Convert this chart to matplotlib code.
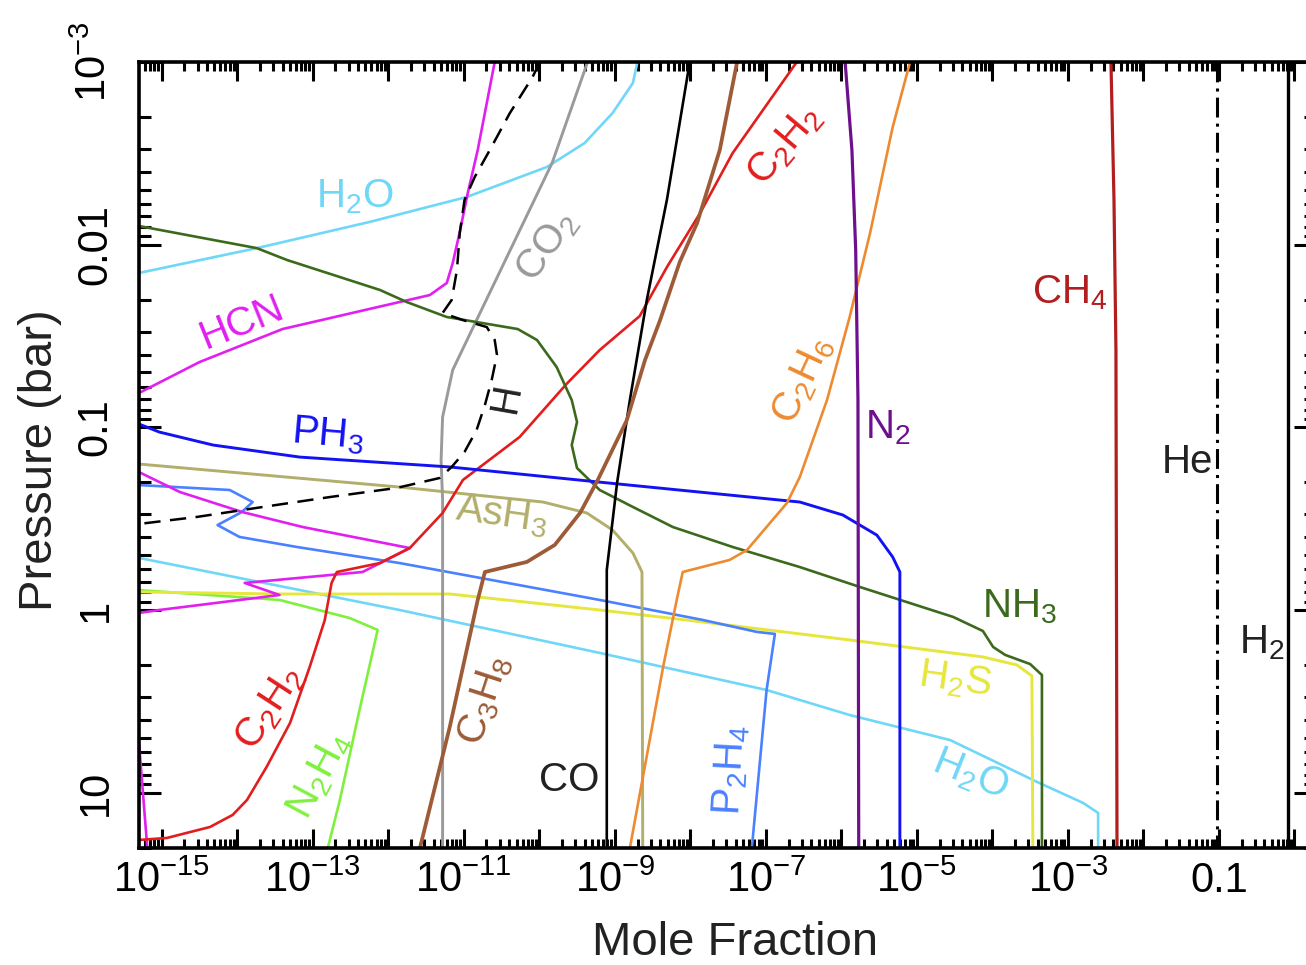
import numpy as np
import matplotlib
matplotlib.use("Agg")
import matplotlib.pyplot as plt
from matplotlib.ticker import FixedLocator, FixedFormatter, NullFormatter

plt.rcParams["font.family"] = ["Liberation Sans", "DejaVu Sans"]
plt.rcParams["mathtext.default"] = "regular"
plt.rcParams["mathtext.fontset"] = "custom"
plt.rcParams["mathtext.rm"] = "Liberation Sans"
plt.rcParams["mathtext.it"] = "Liberation Sans:italic"
plt.rcParams["mathtext.bf"] = "Liberation Sans:bold"

# ---------------------------------------------------------------------------
# Vertical profiles: log10(mole fraction) against log10(pressure / bar)
# ---------------------------------------------------------------------------
h2o_upper_lx = [-15.30, -13.74, -12.25, -10.96, -9.90, -9.40, -9.03, -8.76, -8.70]
h2o_upper_lp = [-1.845, -1.981, -2.124, -2.261, -2.425, -2.556, -2.72, -2.885, -3.0]
h2o_deep_lx = [-15.30, -11.85, -9.20, -6.99, -5.89, -4.56, -3.41, -2.80, -2.60, -2.60]
h2o_deep_lp = [-0.285, 0.0, 0.235, 0.438, 0.575, 0.712, 0.941, 1.056, 1.111, 1.303]

hcn_upper_lx = [-15.30, -14.50, -13.40, -11.85, -11.45, -11.225, -11.146, -11.053, -10.947, -10.815, -10.59]
hcn_upper_lp = [-1.188, -1.357, -1.538, -1.686, -1.724, -1.790, -1.899, -2.069, -2.282, -2.518, -3.0]
hcn_mid_lx = [-15.30, -14.76, -13.93, -13.13, -11.715, -12.34, -13.90, -13.44, -15.03, -15.30]
hcn_mid_lp = [-0.755, -0.646, -0.536, -0.454, -0.339, -0.208, -0.148, -0.082, 0.0, 0.016]
hcn_deep_lx = [-15.30, -15.19]
hcn_deep_lp = [0.728, 1.303]

nh3_lx = [-15.30, -13.74, -13.34, -12.11, -11.755, -11.225, -10.285, -10.03, -9.77, -9.57,
          -9.50, -9.57, -9.50, -9.20, -8.76, -8.23, -7.44, -6.55, -5.755, -4.52,
          -4.126, -3.99, -3.83, -3.50, -3.344, -3.344]
nh3_lp = [-2.102, -1.981, -1.916, -1.752, -1.686, -1.604, -1.538, -1.478, -1.330, -1.149,
          -1.029, -0.903, -0.777, -0.657, -0.564, -0.454, -0.345, -0.235, -0.126, 0.038,
          0.115, 0.2025, 0.246, 0.296, 0.356, 1.303]

ph3_lx = [-15.30, -15.03, -14.32, -13.17, -11.185, -9.20, -6.55, -5.98, -5.53, -5.32, -5.225, -5.225]
ph3_lp = [-1.018, -0.974, -0.903, -0.837, -0.783, -0.70, -0.591, -0.52, -0.41, -0.29, -0.208, 1.303]

ash3_lx = [-15.30, -11.85, -9.95, -9.37, -9.03, -8.76, -8.64, -8.63]
ash3_lp = [-0.799, -0.673, -0.591, -0.531, -0.438, -0.312, -0.208, 1.303]

c2h2_lx = [-6.59, -7.44, -7.87, -8.31, -8.67, -9.20, -9.64, -10.26, -11.01, -11.28, -11.715,
           -12.11, -12.68, -12.75, -12.84, -13.04, -13.30, -13.61, -13.87, -14.06, -14.36,
           -14.93, -15.30]
c2h2_lp = [-3.0, -2.501, -2.173, -1.877, -1.609, -1.423, -1.237, -0.947, -0.712, -0.531, -0.339,
           -0.257, -0.208, -0.148, 0.055, 0.312, 0.6185, 0.859, 1.040, 1.122, 1.188,
           1.248, 1.259]

co2_lx = [-9.36, -9.83, -10.35, -10.83, -11.146, -11.28, -11.30, -11.28, -11.28]
co2_lp = [-3.0, -2.447, -2.0, -1.587, -1.314, -1.056, -0.821, -0.602, 1.303]

h_lx = [-9.99, -10.09, -10.39, -10.655, -10.855, -10.99, -11.053, -11.09, -11.16, -11.28,
        -11.01, -10.695, -10.59, -10.56, -10.63, -10.72, -10.83, -10.99, -11.16, -11.32,
        -11.89, -12.77, -13.66, -14.54, -15.30]
h_lp = [-3.0, -2.917, -2.72, -2.518, -2.37, -2.244, -2.063, -1.861, -1.697, -1.626,
        -1.587, -1.549, -1.478, -1.396, -1.259, -1.122, -0.985, -0.865, -0.783, -0.7225,
        -0.668, -0.6185, -0.564, -0.509, -0.471]

co_lx = [-8.007, -8.31, -8.576, -8.80, -8.97, -9.106, -9.106]
co_lp = [-3.0, -2.245, -1.697, -1.150, -0.695, -0.219, 1.303]

c3h8_lx = [-7.38, -7.61, -7.91, -8.14, -8.40, -8.60, -8.84, -9.225, -9.46, -9.795, -10.165,
           -10.72, -10.815, -10.99, -11.185, -11.58]
c3h8_lp = [-3.0, -2.518, -2.118, -1.905, -1.587, -1.368, -1.04, -0.712, -0.531, -0.356, -0.263,
           -0.208, -0.055, 0.274, 0.640, 1.303]

c2h6_lx = [-5.09, -5.32, -5.62, -5.89, -6.19, -6.55, -6.72, -7.25, -7.48, -8.10, -8.18, -8.36, -8.80]
c2h6_lp = [-3.0, -2.644, -2.063, -1.604, -1.149, -0.728, -0.586, -0.328, -0.274, -0.208, -0.055, 0.312, 1.303]

n2_lx = [-5.95, -5.86, -5.81, -5.78, -5.77]
n2_lp = [-3.0, -2.518, -1.97, -1.15, 1.303]

ch4_lx = [-2.43, -2.39, -2.364, -2.35]
ch4_lp = [-3.0, -2.245, -1.423, 1.303]

he_lx = [-1.026, -1.026]
he_lp = [-3.0, 1.303]

h2_lx = [-0.086, -0.086]
h2_lp = [-3.0, 1.303]

h2s_lx = [-15.30, -13.44, -11.185, -9.20, -8.05, -5.89, -4.126, -3.675, -3.477, -3.464]
h2s_lp = [-0.0985, -0.0876, -0.0876, 0.0, 0.055, 0.164, 0.257, 0.301, 0.361, 1.303]

p2h4_lx = [-15.30, -14.10, -13.795, -13.94, -14.26, -13.97, -13.21, -11.85, -9.20, -7.83,
           -7.12, -6.88, -6.99, -7.185]
p2h4_lp = [-0.684, -0.657, -0.591, -0.536, -0.465, -0.40, -0.345, -0.257, -0.055, 0.055,
           0.120, 0.131, 0.438, 1.303]

n2h4_lx = [-15.30, -13.44, -12.51, -12.14, -12.38, -12.64, -12.80]
n2h4_lp = [-0.109, -0.055, 0.044, 0.109, 0.547, 1.040, 1.303]

# Axis ticks and their labels
x_major_exps = list(range(-15, 1))
x_tick_text = {-15: r"$10^{-15}$", -13: r"$10^{-13}$", -11: r"$10^{-11}$", -9: r"$10^{-9}$",
               -7: r"$10^{-7}$", -5: r"$10^{-5}$", -3: r"$10^{-3}$", -1: "0.1"}
y_major_exps = [-3, -2, -1, 0, 1]
y_tick_text = [r"$10^{-3}$", "0.01", "0.1", "1", "10"]

# ---------------------------------------------------------------------------
W, H = 1306, 965
fig = plt.figure(figsize=(W / 100, H / 100), dpi=100)
ax = fig.add_axes([139 / W, 1 - 848 / H, (1316 - 139) / W, (848 - 62) / H])
ax.set_xscale("log")
ax.set_yscale("log")


def prof(lx, lp, color, lw=1.9, **kw):
    ax.plot(10.0 ** np.asarray(lx), 10.0 ** np.asarray(lp), color=color, lw=lw,
            solid_joinstyle="round", **kw)


C_H2O = "#6fd7f7"
C_HCN = "#e01ff0"
C_NH3 = "#3c6a1d"
C_PH3 = "#1212f2"
C_ASH3 = "#b2ae6b"
C_C2H2 = "#e21d1d"
C_CO2 = "#9a9a9a"
C_C3H8 = "#9d5b37"
C_C2H6 = "#ee8a2f"
C_N2 = "#6e108e"
C_CH4 = "#b21e1e"
C_H2S = "#e6e63c"
C_P2H4 = "#4b80ff"
C_N2H4 = "#80f03e"

prof(h2o_upper_lx, h2o_upper_lp, C_H2O)
prof(h2o_deep_lx, h2o_deep_lp, C_H2O)
prof(n2h4_lx, n2h4_lp, C_N2H4)
prof(h2s_lx, h2s_lp, C_H2S, lw=2.1)
prof(p2h4_lx, p2h4_lp, C_P2H4)
prof(ash3_lx, ash3_lp, C_ASH3, lw=2.1)
prof(co2_lx, co2_lp, C_CO2, lw=2.1)
prof(hcn_upper_lx, hcn_upper_lp, C_HCN)
prof(hcn_mid_lx, hcn_mid_lp, C_HCN)
prof(hcn_deep_lx, hcn_deep_lp, C_HCN)
prof(c2h2_lx, c2h2_lp, C_C2H2)
prof(nh3_lx, nh3_lp, C_NH3)
prof(ph3_lx, ph3_lp, C_PH3, lw=2.1)
prof(co_lx, co_lp, "black")
prof(c3h8_lx, c3h8_lp, C_C3H8, lw=2.7)
prof(c2h6_lx, c2h6_lp, C_C2H6)
prof(n2_lx, n2_lp, C_N2, lw=2.3)
prof(ch4_lx, ch4_lp, C_CH4, lw=2.3)
prof(h_lx, h_lp, "black", lw=1.8, ls=(0, (6.5, 3.8)))
prof(he_lx, he_lp, "black", lw=2.2, ls=(0, (6.5, 2.0, 1, 2.0)))
prof(h2_lx, h2_lp, "black", lw=2.4)

ax.set_xlim(10 ** -15.30, 10 ** 0.285)
ax.set_ylim(10 ** 1.303, 1e-3)

# Species labels
FS = 29
labels = [
    (r"H$_2$O", -12.44, -2.26, 0, C_H2O),
    (r"CO$_2$", -9.90, -1.99, 55, C_CO2),
    (r"C$_2$H$_2$", -6.75, -2.545, 50, C_C2H2),
    ("HCN", -13.94, -1.576, 22, C_HCN),
    ("H", -10.43, -1.16, 80, "#222222"),
    (r"PH$_3$", -12.80, -0.958, -5, C_PH3),
    (r"AsH$_3$", -10.50, -0.52, -8, C_ASH3),
    (r"C$_2$H$_6$", -6.51, -1.259, 65, C_C2H6),
    (r"N$_2$", -5.38, -1.00, 0, C_N2),
    (r"CH$_4$", -2.97, -1.735, 0, C_CH4),
    ("He", -1.42, -0.81, 0, "#222222"),
    (r"H$_2$", -0.43, 0.18, 0, "#222222"),
    (r"NH$_3$", -3.64, -0.016, 0, C_NH3),
    (r"H$_2$S", -4.50, 0.383, -8, C_H2S),
    (r"H$_2$O", -4.30, 0.903, -22, C_H2O),
    (r"C$_2$H$_2$", -13.57, 0.536, 57, C_C2H2),
    (r"N$_2$H$_4$", -12.91, 0.903, 62, C_N2H4),
    (r"C$_3$H$_8$", -10.72, 0.493, 72, C_C3H8),
    ("CO", -9.60, 0.93, 0, "#222222"),
    (r"P$_2$H$_4$", -7.46, 0.876, 87, C_P2H4),
]
for txt, lx, lp, rot, col in labels:
    ax.text(10.0 ** lx, 10.0 ** lp, txt, color=col, fontsize=FS, rotation=rot,
            ha="center", va="center", rotation_mode="anchor")

# Ticks
ax.xaxis.set_major_locator(FixedLocator([10.0 ** k for k in x_major_exps]))
ax.xaxis.set_major_formatter(FixedFormatter([x_tick_text.get(k, "") for k in x_major_exps]))
ax.xaxis.set_minor_locator(FixedLocator([m * 10.0 ** k for k in range(-16, 1) for m in range(2, 10)]))
ax.xaxis.set_minor_formatter(NullFormatter())
ax.yaxis.set_major_locator(FixedLocator([10.0 ** k for k in y_major_exps]))
ax.yaxis.set_major_formatter(FixedFormatter(y_tick_text))
ax.yaxis.set_minor_locator(FixedLocator([m * 10.0 ** k for k in range(-3, 2) for m in range(2, 10)]))
ax.yaxis.set_minor_formatter(NullFormatter())

ax.tick_params(which="both", direction="in", top=True, right=True, width=2.2, color="black")
ax.tick_params(axis="x", which="major", length=13.5, labelsize=30, pad=9)
ax.tick_params(axis="x", which="minor", length=6.5)
ax.tick_params(axis="y", which="major", length=15.5, labelsize=30, pad=17, labelrotation=90)
ax.tick_params(axis="y", which="minor", length=8.5)
for lab in ax.get_yticklabels():
    lab.set_va("center")

for sp in ax.spines.values():
    sp.set_linewidth(2.6)

fig.text(735 / W, 1 - 943 / H, "Mole Fraction", ha="center", va="center", fontsize=34, color="#222222")
fig.text(40 / W, 1 - 460 / H, "Pressure (bar)", ha="center", va="center", rotation=90,
         fontsize=34, color="#222222")

fig.savefig("out.png", dpi=100)
